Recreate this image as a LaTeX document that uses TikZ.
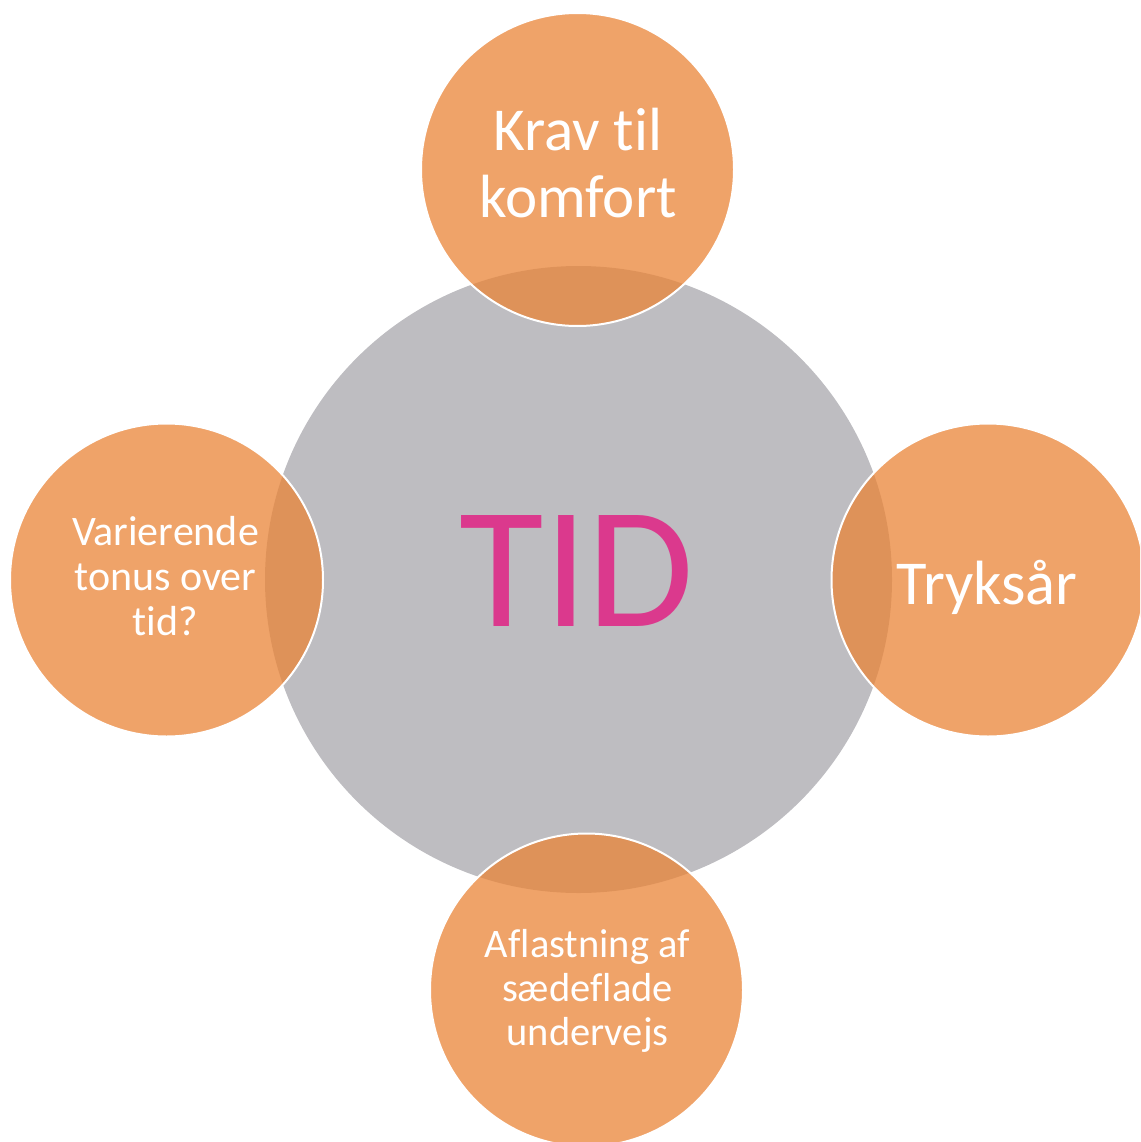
\documentclass[tikz,border=0pt]{standalone}
\usepackage{fontspec}
\setmainfont{Carlito}[Ligatures={NoCommon}]
\definecolor{greyc}{RGB}{190,189,193}
\definecolor{orangec}{RGB}{234,132,55}
\definecolor{tidc}{RGB}{219,57,141}
\tikzset{
  satellite/.style={fill=orangec, fill opacity=0.75},
  rim/.style={draw=white, line width=2pt},
  lbl/.style={text=white, anchor=base, inner sep=0pt},
}
\begin{document}
\begin{tikzpicture}[x=1pt,y=-1pt]
\useasboundingbox (0,0) rectangle (1140,1142);
\clip (0,0) rectangle (1140,1142);
\fill[greyc] (578.5,579.5) circle (313.5);
\fill[satellite] (577.5,169.5) circle (156.5);
\fill[satellite] (988,580) circle (156.5);
\fill[satellite] (586.5,990) circle (156.5);
\fill[satellite] (166.5,580) circle (156.5);
\draw[rim] (577.5,169.5) circle (156.5);
\draw[rim] (988,580) circle (156.5);
\draw[rim] (586.5,990) circle (156.5);
\draw[rim] (166.5,580) circle (156.5);
\node[lbl, text=tidc, font=\fontsize{173}{173}\selectfont] (tid) at (577,626) {TID};
\node[lbl, font=\fontsize{61}{66}\selectfont] (k1) at (578,151) {Krav til};
\node[lbl, font=\fontsize{61}{66}\selectfont] (k2) at (578,217) {komfort};
\node[lbl, font=\fontsize{62.5}{66}\selectfont] (t1) at (987,604) {Tryksår};
\node[lbl, font=\fontsize{42}{45}\selectfont] (v1) at (165.5,545) {Varierende};
\node[lbl, font=\fontsize{42}{45}\selectfont] (v2) at (165.5,590) {tonus over};
\node[lbl, font=\fontsize{42}{45}\selectfont] (v3) at (165.5,635) {tid?};
\node[lbl, font=\fontsize{40.5}{44}\selectfont] (a1) at (587.5,957) {Aflastning af};
\node[lbl, font=\fontsize{40.5}{44}\selectfont] (a2) at (587.5,1001) {sædeflade};
\node[lbl, font=\fontsize{40.5}{44}\selectfont] (a3) at (587.5,1045) {undervejs};
\end{tikzpicture}
\end{document}
